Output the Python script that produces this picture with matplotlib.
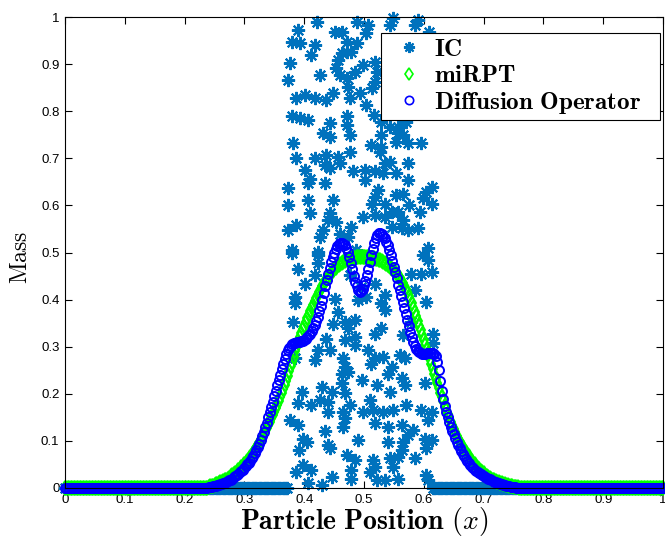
import numpy as np
import matplotlib
matplotlib.use("Agg")
import matplotlib.pyplot as plt
from matplotlib.lines import Line2D

plt.rcParams['mathtext.fontset'] = 'cm'
plt.rcParams['font.family'] = ['Liberation Sans', 'DejaVu Sans']

# ---------------- data ----------------
# Curve particle positions: zero-mass tails and active middle region
x_left = np.round(np.arange(0, 0.2399, 0.0025), 4)
x_mid = np.round(np.arange(0.24, 0.76001, 0.0025), 4)
x_right = np.round(np.arange(0.7625, 1.00001, 0.0025), 4)

# miRPT mass, x = 0.2400 ... 0.7600 (step 0.0025)
mirpt_mid = [
    .003, .0035, .004, .005, .006, .0075, .009, .0105, .012, .0135,
    .015, .0165, .018, .020, .022, .0245, .027, .0295, .032, .035,
    .038, .041, .044, .047, .050, .054, .058, .062, .066, .0705,
    .075, .080, .085, .0905, .096, .102, .108, .1145, .121, .1275,
    .134, .141, .148, .155, .162, .1695, .177, .185, .193, .2015,
    .210, .219, .228, .238, .248, .258, .268, .279, .290, .301,
    .312, .3205, .329, .337, .345, .3525, .360, .3675, .375, .382,
    .389, .396, .403, .4095, .416, .422, .428, .4335, .439, .444,
    .449, .453, .457, .461, .465, .468, .471, .4735, .476, .478,
    .480, .482, .484, .485, .486, .487, .488, .4885, .489, .4895,
    .490, .490, .490, .490, .490, .490, .490, .4895, .489, .4885,
    .488, .4875, .487, .486, .485, .4835, .482, .480, .478, .476,
    .474, .471, .468, .465, .462, .4585, .455, .4505, .446, .4405,
    .435, .429, .423, .4155, .408, .400, .392, .383, .374, .3645,
    .355, .345, .335, .325, .315, .3045, .294, .2835, .273, .2625,
    .252, .242, .232, .222, .212, .2025, .193, .184, .175, .166,
    .157, .149, .141, .133, .125, .118, .111, .1045, .098, .0925,
    .087, .0815, .076, .0715, .067, .0625, .058, .054, .050, .0465,
    .043, .040, .037, .034, .031, .0285, .026, .024, .022, .020,
    .018, .0165, .015, .0135, .012, .011, .010, .009, .008, .007,
    .006, .005, .004, .0035, .003, .0025, .002, .0015, .001]

# Diffusion operator mass, x = 0.2400 ... 0.7600 (step 0.0025)
diff_mid = [
    .002, .0025, .003, .0035, .004, .005, .006, .007, .008, .009,
    .010, .0115, .013, .0145, .016, .018, .020, .0225, .025, .0275,
    .030, .033, .036, .039, .042, .046, .050, .054, .058, .063,
    .068, .074, .080, .087, .094, .102, .110, .119, .129, .139,
    .150, .161, .172, .183, .195, .207, .218, .229, .240, .252,
    .263, .274, .285, .292, .298, .302, .305, .307, .308, .309,
    .310, .311, .312, .313, .315, .317, .320, .324, .328, .334,
    .340, .347, .355, .364, .375, .387, .400, .414, .428, .441,
    .455, .468, .480, .491, .500, .507, .513, .517, .520, .520,
    .518, .515, .510, .501, .490, .478, .465, .451, .438, .428,
    .420, .417, .418, .423, .430, .440, .452, .466, .480, .494,
    .508, .520, .530, .537, .541, .542, .540, .536, .530, .523,
    .515, .505, .494, .482, .470, .458, .445, .432, .420, .407,
    .395, .382, .370, .357, .345, .332, .320, .310, .302, .295,
    .290, .288, .286, .285, .285, .285, .286, .287, .287, .287,
    .286, .284, .280, .268, .250, .228, .205, .189, .175, .162,
    .150, .140, .130, .122, .115, .106, .098, .091, .085, .079,
    .073, .067, .062, .057, .053, .049, .045, .042, .039, .036,
    .034, .032, .030, .028, .026, .024, .022, .020, .019, .017,
    .015, .0135, .012, .011, .010, .009, .008, .007, .006, .005,
    .004, .0035, .003, .0025, .002, .0015, .001, .0005, .0]

# Initial condition: particles with zero mass (positions)
ic_zero_x = np.concatenate([np.round(np.arange(0, 0.3751, 0.004), 3),
                            np.round(np.arange(0.615, 1.0001, 0.004), 3)])

# Initial condition: particles with nonzero mass
ic_x = [0.390, 0.421, 0.379, 0.393, 0.418, 0.412, 0.452, 0.463, 0.488, 0.507,
        0.504, 0.471, 0.488, 0.549, 0.543, 0.591, 0.585, 0.608, 0.376, 0.373,
        0.426, 0.463, 0.471, 0.479, 0.457, 0.454, 0.460, 0.471, 0.485, 0.499,
        0.518, 0.521, 0.518, 0.513, 0.474, 0.387, 0.401, 0.418, 0.437, 0.448,
        0.476, 0.493, 0.504, 0.516, 0.379, 0.393, 0.407, 0.443, 0.471, 0.471,
        0.529, 0.543, 0.557, 0.571, 0.560, 0.600, 0.540, 0.580,
        0.432, 0.443, 0.476, 0.382, 0.529, 0.557, 0.565, 0.512, 0.529, 0.554,
        0.574, 0.596, 0.387, 0.418, 0.437, 0.457, 0.476, 0.435, 0.443, 0.460,
        0.526, 0.543, 0.535, 0.574, 0.401, 0.409, 0.407, 0.481, 0.502, 0.502,
        0.518, 0.532, 0.554, 0.574, 0.373, 0.435, 0.524, 0.518, 0.554, 0.565,
        0.604, 0.613, 0.599, 0.613, 0.373, 0.407, 0.448, 0.513, 0.535, 0.576,
        0.409, 0.443, 0.454, 0.440, 0.499, 0.518, 0.535, 0.546, 0.557, 0.565,
        0.593, 0.373, 0.387, 0.432, 0.426, 0.460, 0.474, 0.479, 0.546, 0.563,
        0.574, 0.591, 0.379, 0.423, 0.487, 0.607,
        0.379, 0.423, 0.423, 0.390, 0.599, 0.607, 0.579, 0.596, 0.613, 0.418,
        0.401, 0.476, 0.495, 0.518, 0.535, 0.504, 0.490, 0.384, 0.384, 0.451,
        0.585, 0.604, 0.457, 0.529, 0.535, 0.382, 0.448, 0.468, 0.485, 0.474,
        0.518, 0.529, 0.565, 0.579, 0.616, 0.616, 0.437, 0.468, 0.485, 0.485,
        0.423, 0.443, 0.507, 0.384, 0.418, 0.465, 0.518, 0.532, 0.560, 0.568,
        0.468, 0.512, 0.546,
        0.463, 0.474, 0.496, 0.540, 0.563, 0.568, 0.602, 0.463, 0.521, 0.396,
        0.429, 0.446, 0.468, 0.543, 0.390, 0.412, 0.426, 0.440, 0.476, 0.510,
        0.571, 0.440, 0.465, 0.499, 0.515, 0.532, 0.549, 0.596, 0.613, 0.376,
        0.390, 0.468, 0.465, 0.518, 0.540, 0.563, 0.607, 0.435, 0.582, 0.574,
        0.398, 0.404, 0.440, 0.490, 0.540, 0.565, 0.602, 0.613, 0.392, 0.443,
        0.563, 0.604, 0.471, 0.485, 0.515, 0.543, 0.557, 0.585, 0.398, 0.518,
        0.549, 0.387, 0.412, 0.479, 0.510, 0.446, 0.479, 0.521, 0.535, 0.557,
        0.604, 0.407, 0.429, 0.607]
ic_y = [0.972, 0.990, 0.947, 0.944, 0.941, 0.920, 0.969, 0.969, 0.990, 0.983,
        0.965, 0.947, 0.944, 0.997, 0.983, 0.994, 0.983, 0.969, 0.902, 0.866,
        0.877, 0.923, 0.926, 0.926, 0.909, 0.891, 0.877, 0.870, 0.884, 0.898,
        0.905, 0.884, 0.863, 0.849, 0.852, 0.828, 0.835, 0.828, 0.824, 0.838,
        0.828, 0.838, 0.813, 0.792, 0.789, 0.785, 0.781, 0.774, 0.789, 0.771,
        0.778, 0.767, 0.767, 0.778, 0.850, 0.900, 0.920, 0.800,
        0.753, 0.746, 0.749, 0.732, 0.749, 0.753, 0.749, 0.728, 0.725, 0.735,
        0.732, 0.732, 0.700, 0.700, 0.707, 0.703, 0.714, 0.686, 0.679, 0.689,
        0.714, 0.693, 0.689, 0.689, 0.675, 0.657, 0.647, 0.672, 0.675, 0.654,
        0.672, 0.668, 0.668, 0.654, 0.636, 0.647, 0.633, 0.618, 0.622, 0.625,
        0.629, 0.640, 0.615, 0.604, 0.601, 0.611, 0.611, 0.604, 0.604, 0.601,
        0.583, 0.583, 0.565, 0.569, 0.576, 0.579, 0.576, 0.587, 0.587, 0.569,
        0.587, 0.548, 0.558, 0.548, 0.533, 0.540, 0.533, 0.555, 0.555, 0.551,
        0.548, 0.551, 0.505, 0.502, 0.505, 0.509,
        0.498, 0.494, 0.477, 0.466, 0.494, 0.484, 0.455, 0.455, 0.459, 0.452,
        0.434, 0.452, 0.427, 0.434, 0.409, 0.406, 0.399, 0.406, 0.392, 0.402,
        0.420, 0.395, 0.374, 0.392, 0.378, 0.353, 0.349, 0.353, 0.356, 0.339,
        0.328, 0.339, 0.324, 0.353, 0.328, 0.307, 0.317, 0.314, 0.321, 0.303,
        0.293, 0.293, 0.293, 0.275, 0.271, 0.275, 0.275, 0.278, 0.282, 0.275,
        0.257, 0.264, 0.257,
        0.243, 0.247, 0.229, 0.243, 0.233, 0.219, 0.222, 0.222, 0.219, 0.204,
        0.215, 0.204, 0.201, 0.204, 0.180, 0.176, 0.187, 0.183, 0.176, 0.187,
        0.176, 0.162, 0.162, 0.162, 0.166, 0.162, 0.166, 0.166, 0.162, 0.144,
        0.134, 0.148, 0.130, 0.137, 0.130, 0.134, 0.144, 0.120, 0.123, 0.112,
        0.105, 0.098, 0.091, 0.102, 0.098, 0.098, 0.105, 0.102, 0.081, 0.084,
        0.081, 0.084, 0.070, 0.059, 0.059, 0.063, 0.066, 0.063, 0.049, 0.045,
        0.045, 0.035, 0.038, 0.038, 0.035, 0.024, 0.020, 0.017, 0.017, 0.020,
        0.027, 0.010, 0.006, 0.017]

x_ticks = [0, 0.1, 0.2, 0.3, 0.4, 0.5, 0.6, 0.7, 0.8, 0.9, 1]
x_tick_labels = ['0', '0.1', '0.2', '0.3', '0.4', '0.5', '0.6', '0.7', '0.8', '0.9', '1']
y_ticks = [0, 0.1, 0.2, 0.3, 0.4, 0.5, 0.6, 0.7, 0.8, 0.9, 1]
y_tick_labels = ['0', '0.1', '0.2', '0.3', '0.4', '0.5', '0.6', '0.7', '0.8', '0.9', '1']

# ---------------- plot ----------------
ic_color = (0, 0.447, 0.741)
ast = (8, 2, 0)

x_curve = np.concatenate([x_left, x_mid, x_right])
mirpt = np.concatenate([np.zeros(len(x_left)), mirpt_mid, np.zeros(len(x_right))])
diffusion = np.concatenate([np.zeros(len(x_left)), diff_mid, np.zeros(len(x_right))])

fig = plt.figure(figsize=(6.65, 5.37), dpi=100)
ax = fig.add_axes([65 / 665, 1 - 488 / 537, 598 / 665, 471 / 537])

ax.plot(ic_zero_x, np.zeros(len(ic_zero_x)), linestyle='none', marker=ast,
        markersize=9.5, markeredgewidth=1.5, color=ic_color, clip_on=False)
ax.plot(ic_x, ic_y, linestyle='none', marker=ast, markersize=9.5,
        markeredgewidth=1.5, color=ic_color, clip_on=False)
ax.plot(x_curve, mirpt, linestyle='none', marker='d', markersize=7,
        markeredgewidth=1.4, markerfacecolor='none', markeredgecolor=(0, 1, 0),
        clip_on=False)
ax.plot(x_curve, diffusion, linestyle='none', marker='o', markersize=6.5,
        markeredgewidth=1.4, markerfacecolor='none', markeredgecolor=(0, 0, 1),
        clip_on=False)

ax.set_xlim(0, 1)
ax.set_ylim(0, 1)
ax.set_xticks(x_ticks)
ax.set_xticklabels(x_tick_labels)
ax.set_yticks(y_ticks)
ax.set_yticklabels(y_tick_labels)
ax.tick_params(direction='in', length=5, width=0.8, top=True, right=True,
               labelsize=9.5, pad=4)
for s in ax.spines.values():
    s.set_linewidth(0.8)

ax.set_xlabel(r'$\mathbf{Particle\ Position}\ (x)$', fontsize=20)
ax.xaxis.set_label_coords(0.5, -0.036)
ax.set_ylabel(r'$\mathrm{Mass}$', fontsize=17)
ax.yaxis.set_label_coords(-0.055, 0.49)

handles = [
    Line2D([], [], linestyle='none', marker=ast, markersize=8, markeredgewidth=1.5,
           color=ic_color),
    Line2D([], [], linestyle='none', marker='d', markersize=6.5, markeredgewidth=1.2,
           markerfacecolor='none', markeredgecolor=(0, 1, 0)),
    Line2D([], [], linestyle='none', marker='o', markersize=6, markeredgewidth=1.2,
           markerfacecolor='none', markeredgecolor=(0, 0, 1)),
]
labels = [r'$\mathbf{IC}$', r'$\mathbf{miRPT}$', r'$\mathbf{Diffusion\ Operator}$']
leg = ax.legend(handles, labels, loc='upper left',
                bbox_to_anchor=(316 / 598, 0.781, 279 / 598, 0.185), mode='expand',
                fontsize=18, frameon=True, fancybox=False, framealpha=1,
                edgecolor='black', borderpad=0.15, labelspacing=0.1,
                handletextpad=0.05, handlelength=1.9, borderaxespad=0)
leg.get_frame().set_linewidth(0.8)
leg.set_zorder(10)

fig.savefig('out.png', dpi=100)
